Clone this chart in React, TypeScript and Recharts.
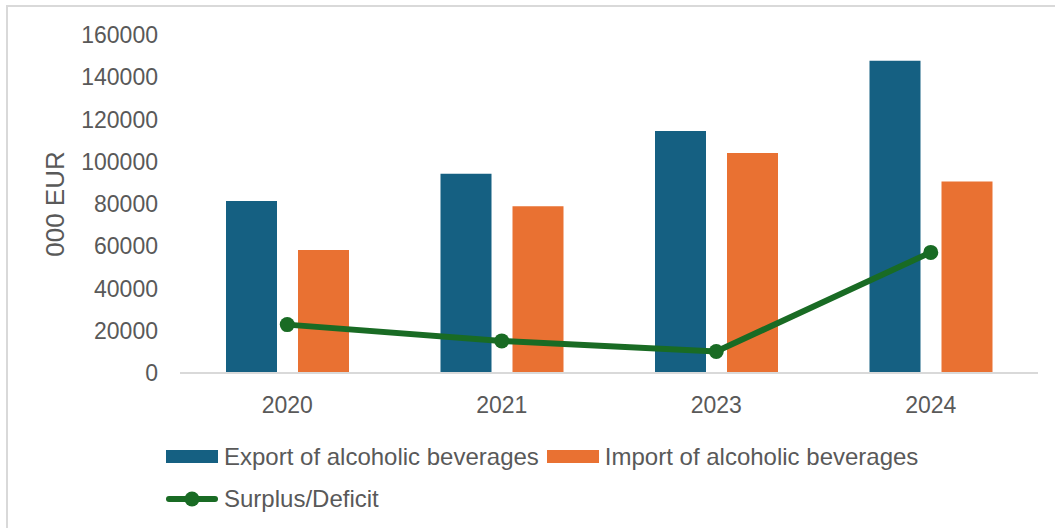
import { ComposedChart, Bar, Line, XAxis, YAxis } from "recharts";

const years = ["2020", "2021", "2023", "2024"];
const exportValues = [81400, 94300, 114600, 147800];
const importValues = [58200, 78900, 104100, 90600];
const surplusValues = [22900, 15200, 10200, 57100];
const yTicks = [0, 20000, 40000, 60000, 80000, 100000, 120000, 140000, 160000];

const seriesNames = {
  export: "Export of alcoholic beverages",
  import: "Import of alcoholic beverages",
  surplus: "Surplus/Deficit",
};

const BLUE = "#156082";
const ORANGE = "#E97132";
const GREEN = "#196B24";
const TEXT = "#595959";
const FONT = "'Liberation Sans', Arial, sans-serif";

const data = years.map((year, i) => ({
  year,
  exp: exportValues[i],
  imp: importValues[i],
  surplus: surplusValues[i],
}));

const YLabel = (props: any) => {
  const vb = props.viewBox || {};
  const cy = vb.y + vb.height / 2;
  return (
    <text
      x={47}
      y={cy}
      transform={`rotate(-90, 47, ${cy})`}
      textAnchor="middle"
      dominantBaseline="central"
      fill={TEXT}
      fontSize={26}
      fontFamily={FONT}
    >
      000 EUR
    </text>
  );
};

const LegendBox = () => {
  const item = (icon: any, label: string) => (
    <span style={{ display: "inline-flex", alignItems: "center", marginRight: 8 }}>
      {icon}
      <span style={{ marginLeft: 6 }}>{label}</span>
    </span>
  );
  const rect = (color: string) => (
    <span style={{ display: "inline-block", width: 52, height: 13, background: color }} />
  );
  const lineIcon = (
    <svg width={52} height={16}>
      <line x1={3} y1={8} x2={49} y2={8} stroke={GREEN} strokeWidth={6} strokeLinecap="round" />
      <circle cx={26} cy={8} r={7.5} fill={GREEN} />
    </svg>
  );
  return (
    <div
      style={{
        position: "absolute",
        left: 158,
        top: 428.5,
        fontFamily: FONT,
        fontSize: 24,
        color: TEXT,
      }}
    >
      <div style={{ height: 42.5, display: "flex", alignItems: "center" }}>
        {item(rect(BLUE), seriesNames.export)}
        {item(rect(ORANGE), seriesNames.import)}
      </div>
      <div style={{ height: 42.5, display: "flex", alignItems: "center" }}>
        {item(lineIcon, seriesNames.surplus)}
      </div>
    </div>
  );
};

export default function App() {
  return (
    <div
      style={{
        position: "absolute",
        top: 5,
        left: 6,
        width: 1060,
        height: 540,
        border: "2px solid #d9d9d9",
        background: "#fff",
      }}
    >
      <ComposedChart
        width={1047}
        height={521}
        data={data}
        margin={{ top: 28, right: 17, bottom: 125, left: 0 }}
        barSize={51}
        barGap={21}
      >
        <XAxis
          dataKey="year"
          height={30}
          interval={0}
          axisLine={{ stroke: "#d9d9d9", strokeWidth: 2 }}
          tickLine={false}
          tickSize={0}
          tickMargin={24}
          tick={{ fill: TEXT, fontSize: 23, fontFamily: FONT }}
        />
        <YAxis
          width={172}
          domain={[0, 160000]}
          ticks={yTicks}
          interval={0}
          axisLine={false}
          tickLine={false}
          tickSize={0}
          tickMargin={22}
          tick={{ fill: TEXT, fontSize: 23, fontFamily: FONT }}
          label={<YLabel />}
        />
        <Bar dataKey="exp" name={seriesNames.export} fill={BLUE} isAnimationActive={false} />
        <Bar dataKey="imp" name={seriesNames.import} fill={ORANGE} isAnimationActive={false} />
        <Line
          dataKey="surplus"
          name={seriesNames.surplus}
          stroke={GREEN}
          strokeWidth={6}
          dot={{ r: 7.5, fill: GREEN, stroke: GREEN, strokeWidth: 0 }}
          activeDot={false}
          isAnimationActive={false}
        />
      </ComposedChart>
      <LegendBox />
    </div>
  );
}
